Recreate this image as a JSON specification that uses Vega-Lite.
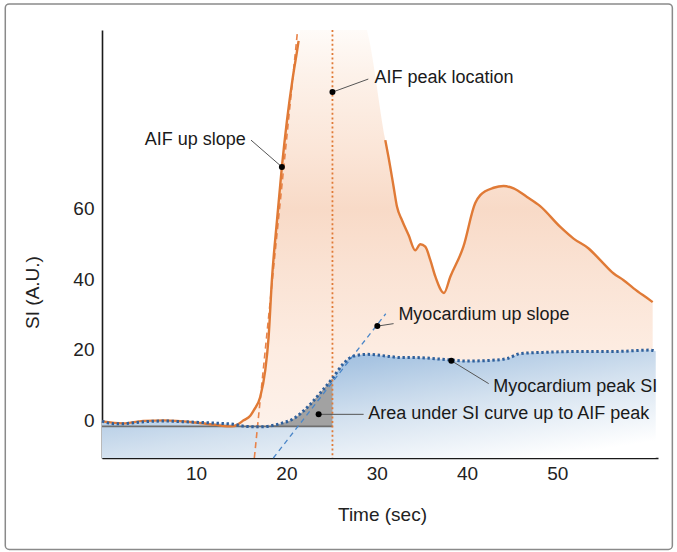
{
  "$schema": "https://vega.github.io/schema/vega-lite/v6.json",
  "width": 556,
  "height": 428,
  "autosize": {"type": "none"},
  "padding": {"left": 102, "top": 30, "right": 19, "bottom": 94},
  "background": "white",
  "config": {
    "view": {"stroke": null},
    "font": "Liberation Sans",
    "axis": {"grid": false, "ticks": false, "labelFontSize": 19, "labelColor": "#222222", "titleFontSize": 19, "titleFontWeight": "normal", "titleColor": "#222222", "domainColor": "#1a1a1a", "domainWidth": 1.6}
  },
  "datasets": {
    "aif": [
      {"t": -0.42, "si": -0.3, "seg": "a"}, {"t": 1.9, "si": -0.85, "seg": "a"}, {"t": 4.15, "si": -0.15, "seg": "a"},
      {"t": 6.5, "si": 0.0, "seg": "a"}, {"t": 9.9, "si": -0.6, "seg": "a"}, {"t": 12.2, "si": -1.3, "seg": "a"},
      {"t": 13.9, "si": -1.7, "seg": "a"}, {"t": 14.6, "si": -1.2, "seg": "a"}, {"t": 15.26, "si": 0.0, "seg": "a"},
      {"t": 16.0, "si": 1.3, "seg": "a"}, {"t": 16.4, "si": 2.9, "seg": "a"}, {"t": 17.1, "si": 6.6, "seg": "a"},
      {"t": 17.66, "si": 14.2, "seg": "a"}, {"t": 18.03, "si": 23.6, "seg": "a"}, {"t": 18.4, "si": 40.0, "seg": "a"},
      {"t": 18.96, "si": 56.7, "seg": "a"}, {"t": 19.5, "si": 71.8, "seg": "a"}, {"t": 20.07, "si": 85.1, "seg": "a"},
      {"t": 20.7, "si": 97.0, "seg": "a"}, {"t": 21.17, "si": 104.5, "seg": "a"}, {"t": 21.35, "si": 107.5, "seg": "a"},
      {"t": 21.8, "si": 113, "seg": "p"}, {"t": 28.4, "si": 113, "seg": "p"},
      {"t": 30.95, "si": 79.4, "seg": "b"}, {"t": 31.3, "si": 74.7, "seg": "b"}, {"t": 31.87, "si": 66.2, "seg": "b"},
      {"t": 32.25, "si": 60.5, "seg": "b"}, {"t": 32.8, "si": 56.7, "seg": "b"}, {"t": 33.53, "si": 52.5, "seg": "b"},
      {"t": 34.27, "si": 48.2, "seg": "b"}, {"t": 34.83, "si": 49.9, "seg": "b"}, {"t": 35.38, "si": 49.2, "seg": "b"},
      {"t": 35.94, "si": 45.4, "seg": "b"}, {"t": 36.5, "si": 40.7, "seg": "b"}, {"t": 37.45, "si": 36.1, "seg": "b"},
      {"t": 38.15, "si": 40.7, "seg": "b"}, {"t": 39.6, "si": 49.2, "seg": "b"}, {"t": 40.9, "si": 61.5, "seg": "b"},
      {"t": 41.47, "si": 63.8, "seg": "b"}, {"t": 42.95, "si": 65.9, "seg": "b"}, {"t": 44.05, "si": 66.4, "seg": "b"},
      {"t": 45.16, "si": 65.7, "seg": "b"}, {"t": 46.64, "si": 63.3, "seg": "b"}, {"t": 48.1, "si": 60.7, "seg": "b"},
      {"t": 50.33, "si": 54.8, "seg": "b"}, {"t": 51.8, "si": 51.5, "seg": "b"}, {"t": 53.47, "si": 48.7, "seg": "b"},
      {"t": 54.76, "si": 45.4, "seg": "b"}, {"t": 56.24, "si": 41.6, "seg": "b"}, {"t": 57.34, "si": 39.7, "seg": "b"},
      {"t": 58.45, "si": 37.4, "seg": "b"}, {"t": 60.3, "si": 34.0, "seg": "b"}, {"t": 60.56, "si": 33.5, "seg": "b"}
    ],
    "myo": [
      {"t": -0.42, "si": -0.2}, {"t": 0.86, "si": -0.94}, {"t": 1.97, "si": -0.94}, {"t": 3.82, "si": -0.48},
      {"t": 6.4, "si": -0.2}, {"t": 9.36, "si": -0.48}, {"t": 11.94, "si": -0.77}, {"t": 14.15, "si": -1.13},
      {"t": 15.45, "si": -1.7}, {"t": 17.1, "si": -1.84}, {"t": 19.3, "si": -0.94}, {"t": 20.8, "si": 0.48},
      {"t": 22.28, "si": 3.6}, {"t": 23.75, "si": 7.74}, {"t": 25.1, "si": 11.9}, {"t": 26.33, "si": 16.1},
      {"t": 27.44, "si": 18.2}, {"t": 28.93, "si": 18.7}, {"t": 31.14, "si": 18.2}, {"t": 32.61, "si": 17.8},
      {"t": 34.09, "si": 17.8}, {"t": 37.78, "si": 17.2}, {"t": 40.0, "si": 16.8}, {"t": 42.58, "si": 17.0},
      {"t": 44.43, "si": 17.5}, {"t": 45.9, "si": 18.9}, {"t": 48.86, "si": 19.3}, {"t": 52.55, "si": 19.5},
      {"t": 56.24, "si": 19.5}, {"t": 60.3, "si": 19.9}, {"t": 60.9, "si": 19.6}
    ],
    "tangents": [
      {"line": "AIF", "t": 16.45, "si": -10.67}, {"line": "AIF", "t": 21.2, "si": 109.5},
      {"line": "Myo", "t": 18.55, "si": -10.67}, {"line": "Myo", "t": 31.0, "si": 30.2}
    ],
    "refs": [
      {"ref": "AIF peak", "t": 25.1, "t2": 25.1, "si": 0},
      {"ref": "baseline", "t": -0.42, "t2": 25.1, "si": -1.7}
    ],
    "notes": [
      {"label": "AIF up slope", "dotT": 19.5, "dotSI": 71.8, "endT": 16.08, "endSI": 79.4, "textT": 15.5, "textSI": 79.3},
      {"label": "AIF peak location", "dotT": 25.1, "dotSI": 93.0, "endT": 29.07, "endSI": 96.7, "textT": 29.75, "textSI": 97.0},
      {"label": "Myocardium up slope", "dotT": 30.07, "dotSI": 26.7, "endT": 31.87, "endSI": 27.4, "textT": 32.4, "textSI": 29.9},
      {"label": "Myocardium peak SI", "dotT": 38.26, "dotSI": 16.9, "endT": 42.4, "endSI": 10.4, "textT": 42.9, "textSI": 9.5},
      {"label": "Area under SI curve up to AIF peak", "dotT": 23.57, "dotSI": 1.7, "endT": 28.55, "endSI": 1.7, "textT": 29.05, "textSI": 1.9}
    ],
    "frame": [
      {"t": -11.13, "t2": 62.74, "si": 118.0, "si2": -36.6}
    ]
  },
  "layer": [
    {
      "data": {"name": "aif"},
      "mark": {"type": "area", "interpolate": "monotone", "clip": true,
        "color": {"gradient": "linear", "x1": 0, "y1": 0, "x2": 0, "y2": 1, "stops": [
          {"offset": 0, "color": "#fffdfb"}, {"offset": 0.12, "color": "#fdf2ea"}, {"offset": 0.3, "color": "#fbe5d7"},
          {"offset": 0.43, "color": "#f8dac7"}, {"offset": 0.56, "color": "#fae2d3"}, {"offset": 0.75, "color": "#fdece1"}, {"offset": 1, "color": "#fdf3ed"}]}},
      "encoding": {
        "x": {"field": "t", "type": "quantitative", "scale": {"domain": [-0.42, 61.15], "nice": false, "zero": false},
          "axis": {"values": [10, 20, 30, 40, 50], "labelPadding": 6, "title": "Time (sec)", "titleX": 280, "titleY": 56, "titleBaseline": "middle"}},
        "y": {"field": "si", "type": "quantitative", "scale": {"domain": [-10.67, 110.6], "nice": false, "zero": false},
          "axis": {"values": [0, 20, 40, 60], "labelPadding": 8, "title": "SI (A.U.)", "titleX": -70, "titleY": 262, "titleBaseline": "middle"}},
        "y2": {"datum": -10.67}
      }
    },
    {
      "data": {"name": "myo"},
      "mark": {"type": "area", "interpolate": "monotone",
        "color": {"gradient": "linear", "x1": 0, "y1": 0, "x2": 0.8, "y2": 1, "stops": [
          {"offset": 0, "color": "#8fb3d9"}, {"offset": 0.3, "color": "#a9c5e2"}, {"offset": 0.6, "color": "#d3e1ef"}, {"offset": 1, "color": "#ffffff"}]}},
      "encoding": {
        "x": {"field": "t", "type": "quantitative", "scale": {"domain": [-0.42, 61.15], "nice": false, "zero": false}},
        "y": {"field": "si", "type": "quantitative", "scale": {"domain": [-10.67, 110.6], "nice": false, "zero": false}},
        "y2": {"datum": -10.67}
      }
    },
    {
      "data": {"name": "myo"},
      "transform": [{"filter": "datum.t >= 17.1 && datum.t <= 25.1"}],
      "mark": {"type": "area", "interpolate": "monotone", "color": "#a2a2a2"},
      "encoding": {
        "x": {"field": "t", "type": "quantitative", "scale": {"domain": [-0.42, 61.15], "nice": false, "zero": false}},
        "y": {"field": "si", "type": "quantitative", "scale": {"domain": [-10.67, 110.6], "nice": false, "zero": false}},
        "y2": {"datum": -1.7}
      }
    },
    {
      "data": {"name": "refs"},
      "transform": [{"filter": "datum.ref === 'baseline'"}],
      "mark": {"type": "rule", "color": "#6e6e6e", "strokeWidth": 1.6},
      "encoding": {
        "x": {"field": "t", "type": "quantitative", "scale": {"domain": [-0.42, 61.15], "nice": false, "zero": false}},
        "x2": {"field": "t2"},
        "y": {"field": "si", "type": "quantitative", "scale": {"domain": [-10.67, 110.6], "nice": false, "zero": false}}
      }
    },
    {
      "data": {"name": "refs"},
      "transform": [{"filter": "datum.ref === 'AIF peak'"}],
      "mark": {"type": "rule", "color": "#e07a36", "strokeWidth": 1.8, "strokeDash": [2, 2.6]},
      "encoding": {
        "x": {"field": "t", "type": "quantitative", "scale": {"domain": [-0.42, 61.15], "nice": false, "zero": false}}
      }
    },
    {
      "data": {"name": "tangents"},
      "transform": [{"filter": "datum.line === 'AIF'"}],
      "mark": {"type": "line", "color": "#e8834a", "strokeWidth": 1.6, "strokeDash": [6, 4]},
      "encoding": {
        "x": {"field": "t", "type": "quantitative", "scale": {"domain": [-0.42, 61.15], "nice": false, "zero": false}},
        "y": {"field": "si", "type": "quantitative", "scale": {"domain": [-10.67, 110.6], "nice": false, "zero": false}}
      }
    },
    {
      "data": {"name": "tangents"},
      "transform": [{"filter": "datum.line === 'Myo'"}],
      "mark": {"type": "line", "color": "#4a86c8", "strokeWidth": 1.3, "strokeDash": [5, 4]},
      "encoding": {
        "x": {"field": "t", "type": "quantitative", "scale": {"domain": [-0.42, 61.15], "nice": false, "zero": false}},
        "y": {"field": "si", "type": "quantitative", "scale": {"domain": [-10.67, 110.6], "nice": false, "zero": false}}
      }
    },
    {
      "data": {"name": "aif"},
      "transform": [{"filter": "datum.seg !== 'p'"}],
      "mark": {"type": "line", "interpolate": "monotone", "color": "#e07a36", "strokeWidth": 2.4},
      "encoding": {
        "x": {"field": "t", "type": "quantitative", "scale": {"domain": [-0.42, 61.15], "nice": false, "zero": false}},
        "y": {"field": "si", "type": "quantitative", "scale": {"domain": [-10.67, 110.6], "nice": false, "zero": false}},
        "detail": {"field": "seg"}
      }
    },
    {
      "data": {"name": "myo"},
      "mark": {"type": "line", "interpolate": "monotone", "color": "#2f609c", "strokeWidth": 3, "strokeDash": [2.4, 2.6]},
      "encoding": {
        "x": {"field": "t", "type": "quantitative", "scale": {"domain": [-0.42, 61.15], "nice": false, "zero": false}},
        "y": {"field": "si", "type": "quantitative", "scale": {"domain": [-10.67, 110.6], "nice": false, "zero": false}}
      }
    },
    {
      "data": {"name": "notes"},
      "mark": {"type": "rule", "color": "#555555", "strokeWidth": 1},
      "encoding": {
        "x": {"field": "dotT", "type": "quantitative", "scale": {"domain": [-0.42, 61.15], "nice": false, "zero": false}},
        "y": {"field": "dotSI", "type": "quantitative", "scale": {"domain": [-10.67, 110.6], "nice": false, "zero": false}},
        "x2": {"field": "endT"},
        "y2": {"field": "endSI"}
      }
    },
    {
      "data": {"name": "notes"},
      "mark": {"type": "point", "filled": true, "color": "#000000", "opacity": 1, "size": 36},
      "encoding": {
        "x": {"field": "dotT", "type": "quantitative", "scale": {"domain": [-0.42, 61.15], "nice": false, "zero": false}},
        "y": {"field": "dotSI", "type": "quantitative", "scale": {"domain": [-10.67, 110.6], "nice": false, "zero": false}}
      }
    },
    {
      "data": {"name": "notes"},
      "transform": [{"filter": "datum.label !== 'AIF up slope'"}],
      "mark": {"type": "text", "align": "left", "baseline": "middle", "fontSize": 18, "color": "#1a1a1a"},
      "encoding": {
        "x": {"field": "textT", "type": "quantitative", "scale": {"domain": [-0.42, 61.15], "nice": false, "zero": false}},
        "y": {"field": "textSI", "type": "quantitative", "scale": {"domain": [-10.67, 110.6], "nice": false, "zero": false}},
        "text": {"field": "label"}
      }
    },
    {
      "data": {"name": "notes"},
      "transform": [{"filter": "datum.label === 'AIF up slope'"}],
      "mark": {"type": "text", "align": "right", "baseline": "middle", "fontSize": 18, "color": "#1a1a1a"},
      "encoding": {
        "x": {"field": "textT", "type": "quantitative", "scale": {"domain": [-0.42, 61.15], "nice": false, "zero": false}},
        "y": {"field": "textSI", "type": "quantitative", "scale": {"domain": [-10.67, 110.6], "nice": false, "zero": false}},
        "text": {"field": "label"}
      }
    },
    {
      "data": {"name": "frame"},
      "mark": {"type": "rect", "filled": false, "stroke": "#8a8a8a", "strokeWidth": 1.5, "cornerRadius": 4},
      "encoding": {
        "x": {"field": "t", "type": "quantitative", "scale": {"domain": [-0.42, 61.15], "nice": false, "zero": false}},
        "x2": {"field": "t2"},
        "y": {"field": "si", "type": "quantitative", "scale": {"domain": [-10.67, 110.6], "nice": false, "zero": false}},
        "y2": {"field": "si2"}
      }
    }
  ]
}
